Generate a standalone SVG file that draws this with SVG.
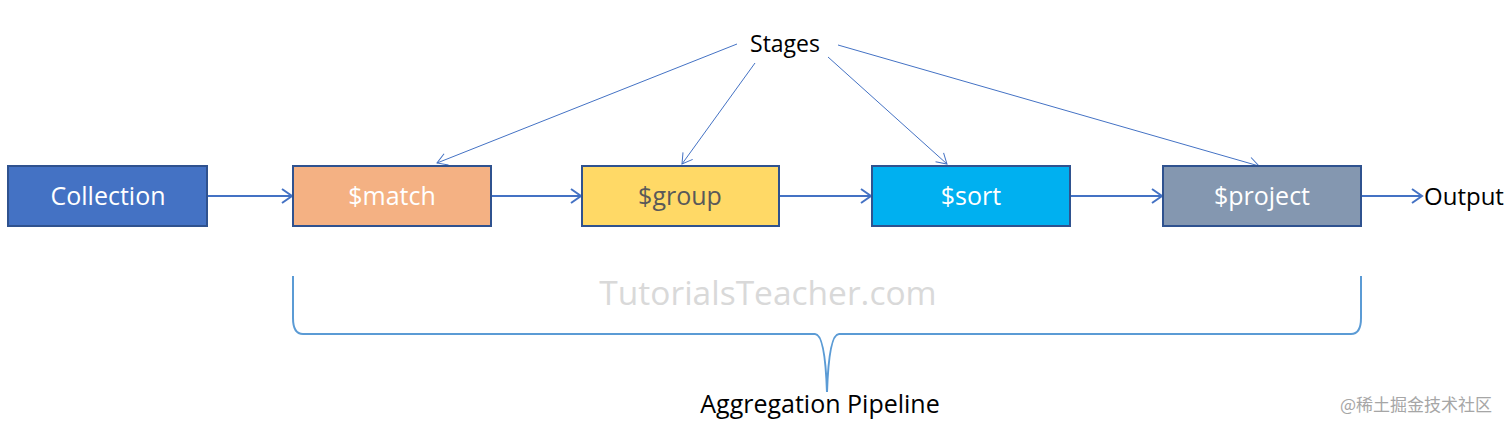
<svg xmlns="http://www.w3.org/2000/svg" width="1512" height="430" viewBox="0 0 1512 430">
  <style>
    .box { stroke: #2F528F; stroke-width: 2; }
    .lbl { font-family: "Open Sans", "Liberation Sans", sans-serif; font-size: 25px; text-anchor: middle; }
    .txt { font-family: "Open Sans", "Liberation Sans", sans-serif; fill: #000; }
    .flow { stroke: #4472C4; stroke-width: 2; fill: none; }
    .stage { stroke: #4472C4; stroke-width: 1; fill: none; }
  </style>
  <defs>
    <marker id="arrFlow" markerUnits="userSpaceOnUse" markerWidth="14" markerHeight="16" refX="11" refY="8" orient="auto">
      <path d="M 1 1 L 11 8 L 1 15" fill="none" stroke="#4472C4" stroke-width="2"/>
    </marker>
    <marker id="arrStage" markerUnits="userSpaceOnUse" markerWidth="14" markerHeight="14" refX="11" refY="7" orient="auto">
      <path d="M 1 1 L 11 7 L 1 13" fill="none" stroke="#4472C4" stroke-width="1"/>
    </marker>
  </defs>
  <rect width="1512" height="430" fill="#ffffff"/>

  <text x="768" y="305" font-family="Open Sans, Liberation Sans, sans-serif" font-size="33.5" fill="#d9d9d9" text-anchor="middle">TutorialsTeacher.com</text>

  <g id="connectors">
    <line class="flow" x1="207" y1="196" x2="292" y2="196" marker-end="url(#arrFlow)"/>
    <line class="flow" x1="491" y1="196" x2="581" y2="196" marker-end="url(#arrFlow)"/>
    <line class="flow" x1="779" y1="196" x2="871" y2="196" marker-end="url(#arrFlow)"/>
    <line class="flow" x1="1070" y1="196" x2="1162" y2="196" marker-end="url(#arrFlow)"/>
    <line class="flow" x1="1361" y1="196" x2="1422" y2="196" marker-end="url(#arrFlow)"/>
    <line class="stage" x1="737" y1="44" x2="437" y2="163" marker-end="url(#arrStage)"/>
    <line class="stage" x1="755" y1="63" x2="682" y2="164" marker-end="url(#arrStage)"/>
    <line class="stage" x1="828" y1="57" x2="947" y2="164" marker-end="url(#arrStage)"/>
    <line class="stage" x1="838" y1="45" x2="1259" y2="166" marker-end="url(#arrStage)"/>
    <path d="M 293 276 L 293 318 Q 293 334 303 334 L 815 334 Q 825 334 827 392 Q 829 334 839 334 L 1351 334 Q 1361 334 1361 318 L 1361 276" fill="none" stroke="#5B9BD5" stroke-width="2"/>
  </g>

  <g id="collection">
    <rect class="box" x="8" y="166" width="199" height="60" fill="#4472C4"/>
    <text class="lbl" x="108" y="205" fill="#ffffff">Collection</text>
  </g>
  <g id="match">
    <rect class="box" x="293" y="166" width="198" height="60" fill="#F4B183"/>
    <text class="lbl" x="392" y="205" fill="#ffffff">$match</text>
  </g>
  <g id="group">
    <rect class="box" x="582" y="166" width="197" height="60" fill="#FFD966"/>
    <text class="lbl" x="680" y="205" fill="#595959">$group</text>
  </g>
  <g id="sort">
    <rect class="box" x="872" y="166" width="198" height="60" fill="#00B0F0"/>
    <text class="lbl" x="971" y="205" fill="#ffffff">$sort</text>
  </g>
  <g id="project">
    <rect class="box" x="1163" y="166" width="198" height="60" fill="#8497B0"/>
    <text class="lbl" x="1262" y="205" fill="#ffffff">$project</text>
  </g>

  <g id="stages">
    <text class="txt" x="785" y="52" font-size="23" text-anchor="middle">Stages</text>
  </g>
  <g id="output">
    <text class="txt" x="1424" y="205" font-size="24">Output</text>
  </g>
  <g id="pipeline">
    <text class="txt" x="820" y="413" font-size="25" text-anchor="middle">Aggregation Pipeline</text>
  </g>

  <text x="1416" y="411" font-family="Noto Sans CJK SC, Noto Sans, sans-serif" font-size="17" fill="#a6a6a6" text-anchor="middle">@稀土掘金技术社区</text>
</svg>
